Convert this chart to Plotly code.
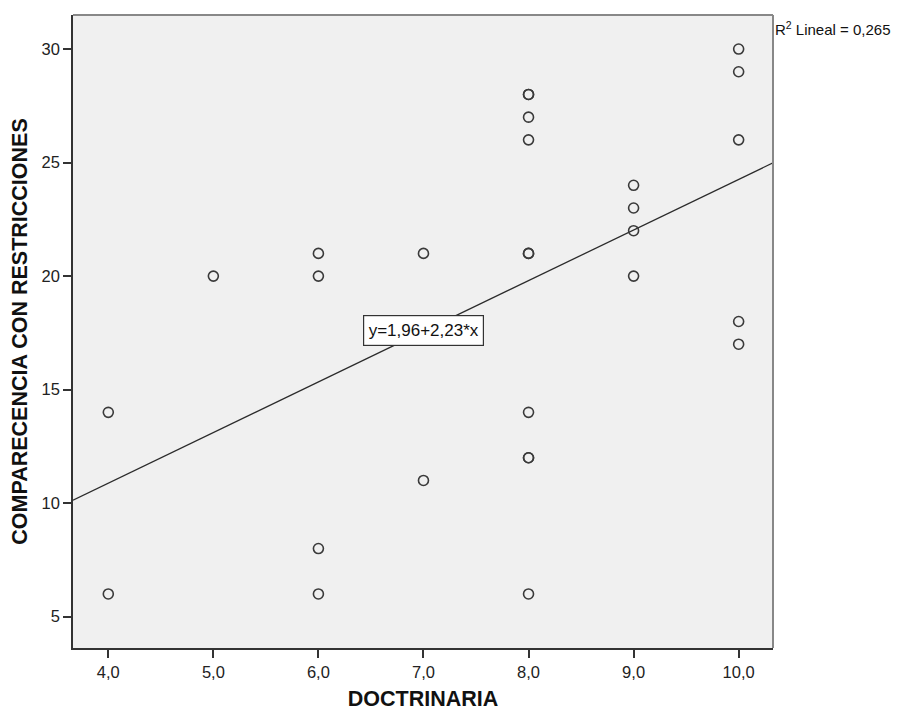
import plotly.graph_objects as go

# Data
doctrinaria = [4, 4,
               5,
               6, 6, 6, 6,
               7, 7,
               8, 8, 8, 8, 8, 8, 8, 8, 8, 8,
               9, 9, 9, 9,
               10, 10, 10, 10, 10]
comparecencia = [14, 6,
                 20,
                 21, 20, 8, 6,
                 21, 11,
                 28, 28, 27, 26, 21, 21, 14, 12, 12, 6,
                 24, 23, 22, 20,
                 30, 29, 26, 18, 17]

intercept = 1.96
slope = 2.23
r2_text = "R<sup>2</sup> Lineal = 0,265"
eq_text = "y=1,96+2,23*x"

x_ticks = [4, 5, 6, 7, 8, 9, 10]
x_ticklabels = ["4,0", "5,0", "6,0", "7,0", "8,0", "9,0", "10,0"]
y_ticks = [5, 10, 15, 20, 25, 30]

x_range = [3.664, 10.327]
y_range = [3.62, 31.5]

fit_x = x_range
fit_y = [intercept + slope * v for v in fit_x]

fig = go.Figure()
fig.add_trace(go.Scatter(
    x=fit_x, y=fit_y, mode="lines",
    line=dict(color="#2b2b2b", width=1.3),
    hoverinfo="skip", showlegend=False, cliponaxis=True))
fig.add_trace(go.Scatter(
    x=doctrinaria, y=comparecencia, mode="markers",
    marker=dict(symbol="circle-open", size=10, color="#3a3a3a",
                line=dict(width=1.6, color="#3a3a3a")),
    showlegend=False))

font_family = "Liberation Sans, Arial, sans-serif"

fig.update_layout(
    width=891, height=703,
    margin=dict(l=65, r=126, t=7, b=63, pad=0, autoexpand=False),
    paper_bgcolor="white",
    plot_bgcolor="#f0f0f0",
    font=dict(family=font_family, color="#222222", size=16),
    xaxis=dict(
        range=x_range, tickmode="array", tickvals=x_ticks, ticktext=x_ticklabels,
        automargin=False,
        showgrid=False, zeroline=False, showline=True, linecolor="#333333", linewidth=1.5,
        ticks="outside", ticklen=8, tickwidth=1.5, tickcolor="#333333",
        tickfont=dict(size=16.5, color="#222222"),
        title=dict(text="<b>DOCTRINARIA</b>", font=dict(size=21.5, color="#111111"), standoff=18),
    ),
    yaxis=dict(
        range=y_range, tickmode="array", tickvals=y_ticks,
        automargin=False,
        showgrid=False, zeroline=False, showline=True, linecolor="#333333", linewidth=1.5,
        ticks="outside", ticklen=8, tickwidth=1.5, tickcolor="#333333",
        tickfont=dict(size=16.5, color="#222222"),
        title=dict(text="<b>COMPARECENCIA CON RESTRICCIONES</b>", font=dict(size=21.5, color="#111111"), standoff=16),
    ),
    shapes=[
        dict(type="line", xref="paper", yref="paper", x0=0, x1=1, y0=1, y1=1,
             line=dict(color="#888888", width=2)),
        dict(type="line", xref="paper", yref="paper", x0=1, x1=1, y0=0, y1=1,
             line=dict(color="#888888", width=2)),
    ],
    annotations=[
        dict(text=r2_text, xref="paper", yref="paper", x=1.0, y=0.978,
             xanchor="left", yanchor="middle", showarrow=False,
             font=dict(size=15, color="#111111")),
        dict(text=eq_text, x=7.0, y=17.6, xref="x", yref="y",
             xanchor="center", yanchor="middle", showarrow=False,
             width=113, height=23,
             bgcolor="white", bordercolor="#333333", borderwidth=1.2, borderpad=3,
             font=dict(size=17, color="#111111")),
    ],
)

fig.write_html("out.html")
